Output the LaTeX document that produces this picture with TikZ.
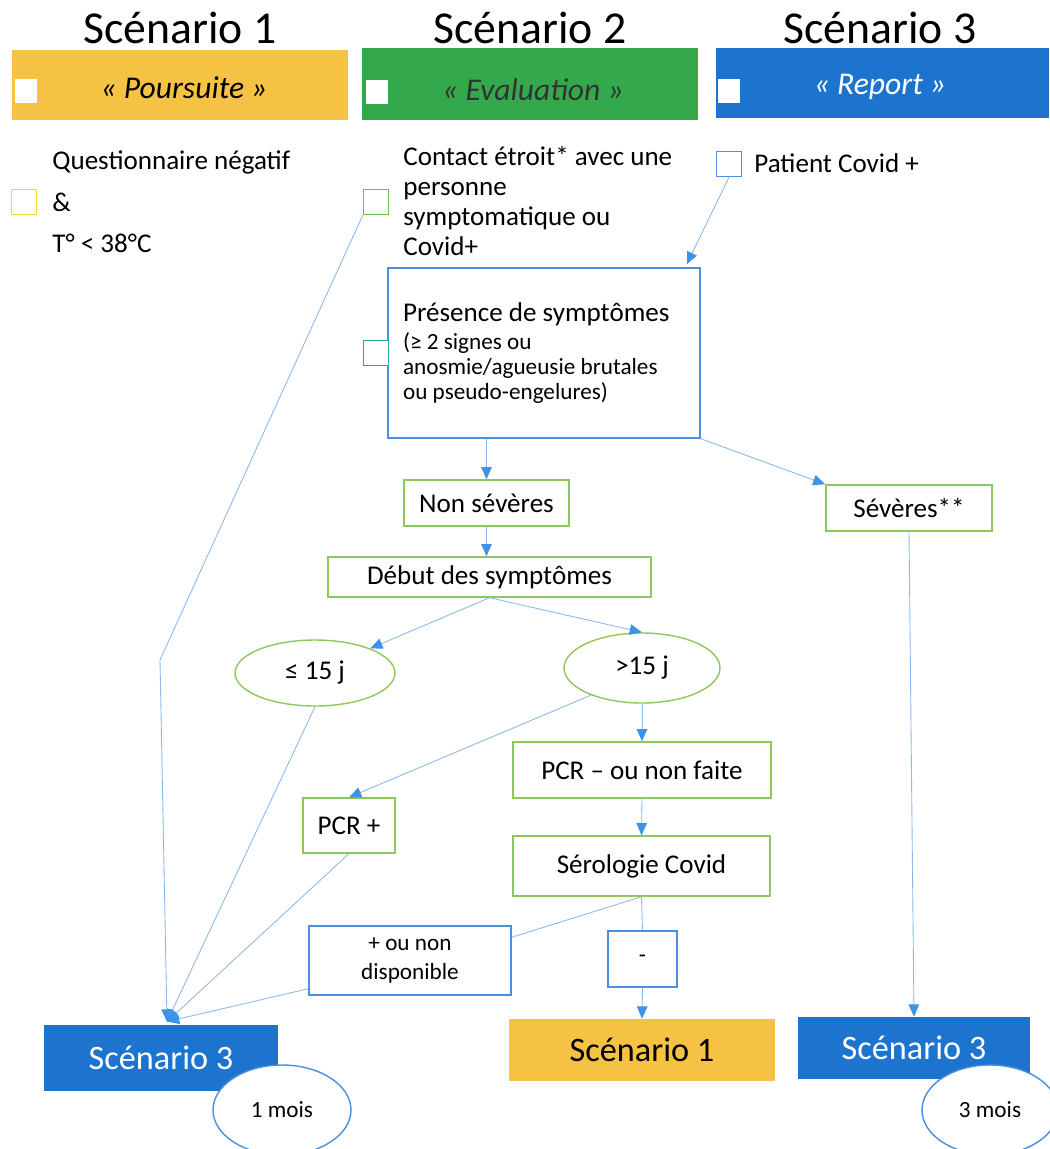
\documentclass[tikz,border=0pt]{standalone}
\usepackage{fontspec}
\setmainfont{Carlito}
\usetikzlibrary{calc,arrows.meta,positioning,shapes.geometric}
\definecolor{scenyellow}{HTML}{F5C244}
\definecolor{scengreen}{HTML}{34A94B}
\definecolor{scenblue}{HTML}{1C74CF}
\definecolor{boxgreen}{HTML}{8DC85A}
\definecolor{boxblue}{HTML}{4A8FE0}
\definecolor{lineblue}{HTML}{8CB8EA}
\definecolor{tipblue}{HTML}{3D94E6}
\definecolor{sqyellow}{HTML}{EEDD30}
\definecolor{sqgreen}{HTML}{6CC04A}
\definecolor{sqteal}{HTML}{2AA79B}
\definecolor{evalgray}{HTML}{333333}

\begin{document}
\begin{tikzpicture}[x=0.02cm,y=-0.02cm,font=\fontsize{15.4}{17}\selectfont,every node/.style={align=center,inner sep=0pt},
  head/.style={minimum width=6.72cm,minimum height=1.4cm},
  headtxt/.style={font=\fontsize{18}{20}\selectfont\itshape},
  wsq/.style={fill=white,minimum width=0.44cm,minimum height=0.5cm},
  osq/.style={draw,line width=0.8pt,fill=white,minimum size=0.5cm},
  gbox/.style={draw=boxgreen,line width=0.8pt,fill=white},
  bbox/.style={draw=boxblue,line width=0.8pt,fill=white},
  scen/.style={font=\fontsize{19.5}{21}\selectfont},
  small/.style={font=\fontsize{13.2}{16}\selectfont},
  arr/.style={draw=lineblue,line width=0.5pt,-{Triangle[length=7pt,width=6pt,color=tipblue]}},
  ln/.style={draw=lineblue,line width=0.5pt}]
\useasboundingbox (0,0) rectangle (1049,1149);

\node[font=\fontsize{26}{28}\selectfont] (title1) at (180,28) {Scénario 1};
\node[font=\fontsize{26}{28}\selectfont] (title2) at (530,28) {Scénario 2};
\node[font=\fontsize{26}{28}\selectfont] (title3) at (880,28) {Scénario 3};

\node[head,fill=scenyellow] (pours) at (180,85) {};
\node[head,fill=scengreen,minimum height=1.44cm] (evalu) at (530,84) {};
\node[head,fill=scenblue,minimum width=6.66cm] (report) at (882.5,83) {};
\node[headtxt] (poursT) at (184,88) {«~Poursuite~»};
\node[headtxt,text=evalgray] (evaluT) at (533,90) {«~Evaluation~»};
\node[headtxt,text=white] (reportT) at (880,87) {«~Report~»};
\node[wsq] (poursq) at (26,91) {};
\node[wsq] (evalsq) at (377,92) {};
\node[wsq] (reportsq) at (729,91) {};

\node[osq,draw=sqyellow] (questsq) at (24,202) {};
\node[anchor=base west] (quest) at (52,169) {Questionnaire négatif};
\node[anchor=base west] (et) at (52,211) {\&};
\node[anchor=base west] (temp) at (52,252) {T° < 38°C};

\node[osq,draw=sqgreen] (contsq) at (376,202) {};
\node[anchor=north west,align=flush left] (contact) at (403,146) {Contact étroit* avec une\\personne\\symptomatique ou\\Covid+};

\node[osq,draw=boxblue] (patsq) at (729,164) {};
\node[anchor=west] (patient) at (754,163) {Patient Covid +};

\node[bbox,minimum width=6.24cm,minimum height=3.4cm,text width=5.64cm,align=flush left,font=\fontsize{13.2}{14.2}\selectfont] (symp) at (544,353)
  {{\fontsize{15.4}{16}\selectfont Présence de symptômes}\\[1.6pt](≥ 2 signes ou\\anosmie/agueusie brutales\\ou pseudo-engelures)};
\node[osq,draw=sqteal] (sympsq) at (376,353) {};

\node[gbox,minimum width=3.3cm,minimum height=0.92cm] (nonsev) at (486.5,503) {Non sévères};
\node[gbox,minimum width=3.32cm,minimum height=0.92cm] (sev) at (909,508) {Sévères**};
\node[gbox,minimum width=6.46cm,minimum height=0.8cm] (debut) at (489.5,577) {Début des symptômes};
\node[gbox,ellipse,minimum width=3.2cm,minimum height=1.32cm] (le15) at (315,673) {≤ 15 j};
\node[gbox,ellipse,minimum width=3.12cm,minimum height=1.4cm] (gt15) at (642,668) {>15 j};
\node[gbox,minimum width=5.16cm,minimum height=1.12cm] (pcrneg) at (642,770) {PCR – ou non faite};
\node[gbox,minimum width=1.84cm,minimum height=1.1cm] (pcrpos) at (349,825.5) {PCR +};
\node[gbox,minimum width=5.14cm,minimum height=1.2cm] (sero) at (641.5,866) {Sérologie Covid};
\node[bbox,small,minimum width=4.04cm,minimum height=1.38cm] (dispo) at (410,960.5) {+ ou non\\disponible};
\node[bbox,small,minimum width=1.38cm,minimum height=1.12cm] (moins) at (642.5,959) {-};

\node[scen,fill=scenyellow,minimum width=5.32cm,minimum height=1.24cm] (sc1) at (642,1050) {Scénario 1};
\node[scen,fill=scenblue,text=white,minimum width=4.64cm,minimum height=1.24cm] (sc3r) at (914,1048) {Scénario 3};
\node[scen,fill=scenblue,text=white,minimum width=4.68cm,minimum height=1.32cm] (sc3l) at (161,1058) {Scénario 3};
\node[bbox,small,ellipse,minimum width=2.76cm,minimum height=1.8cm] (mois1) at (282,1110) {1 mois};
\node[bbox,small,ellipse,minimum width=2.72cm,minimum height=1.8cm] (mois3) at (990,1110) {3 mois};

\coordinate (kink) at (160,660);
\coordinate (conv) at ($(sc3l.north)+(6,-3)$);

\draw[arr] (patsq.south) -- ($(symp.north east)+(-14,-3)$);
\draw[arr] (contsq.south west) -- (kink) -- (conv);
\draw[arr] (nonsev.north |- symp.south) -- (nonsev.north);
\draw[arr] (symp.south east) -- (sev.north west);
\draw[arr] (nonsev.south) -- (nonsev.south |- debut.north);
\draw[arr] (debut.south) -- (le15.24);
\draw[arr] (debut.south) -- (gt15.north);
\draw[arr] (gt15.south) -- (pcrneg.north);
\draw[arr] (gt15.208) -- (pcrpos.north);
\draw[arr] (pcrneg.south) -- (sero.north);
\draw[ln] (sero.south) -- ($(dispo.north east)+(0,12)$);
\draw[ln] (sero.south) -- (moins.north);
\draw[arr] (moins.south) -- (sc1.north);
\draw[arr] (sev.south) -- (sc3r.north);
\draw[arr] (le15.south) -- (conv);
\draw[arr] (pcrpos.south) -- (conv);
\draw[arr] ($(dispo.south west)+(0,-7)$) -- (conv);
\end{tikzpicture}
\end{document}
